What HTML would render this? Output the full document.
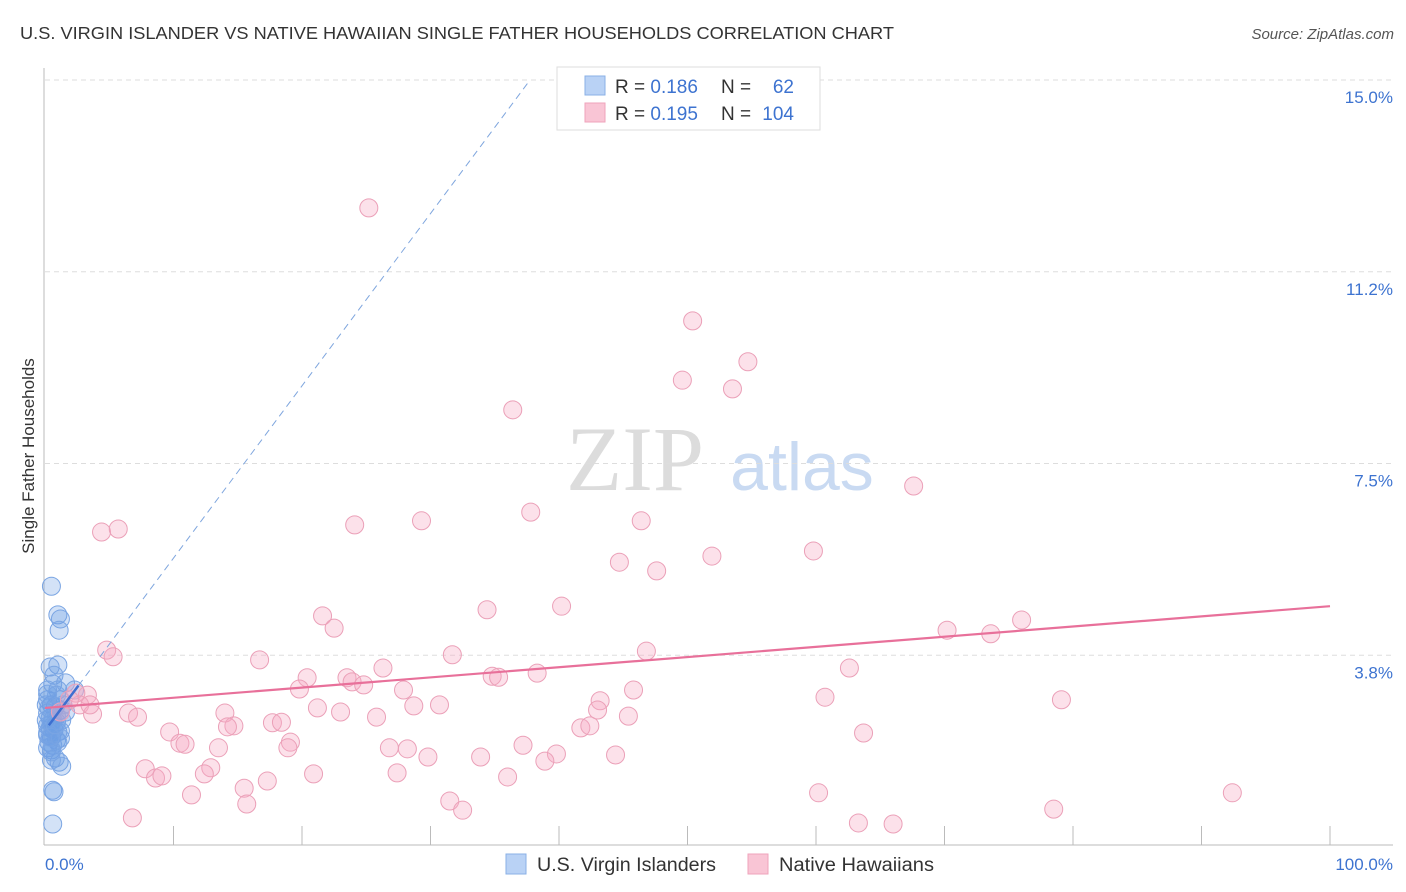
<!DOCTYPE html>
<html><head><meta charset="utf-8"><style>
body{margin:0;background:#fff;font-family:"Liberation Sans",sans-serif;}
svg{display:block}
</style></head><body>
<svg id="chart" width="1406" height="892" xmlns="http://www.w3.org/2000/svg">
<text x="20" y="39" font-size="17.5" fill="#333" textLength="874" lengthAdjust="spacingAndGlyphs">U.S. VIRGIN ISLANDER VS NATIVE HAWAIIAN SINGLE FATHER HOUSEHOLDS CORRELATION CHART</text>
<text x="1394" y="39" font-size="15" fill="#555" font-style="italic" text-anchor="end">Source: ZipAtlas.com</text>
<text transform="translate(34,456) rotate(-90)" font-size="17" fill="#333" text-anchor="middle">Single Father Households</text>
<g>
<text x="635" y="490" font-size="92" fill="#dcdcdc" font-family="Liberation Serif,serif" text-anchor="middle">ZIP</text>
<text x="802" y="490" font-size="68" fill="#c9daf2" text-anchor="middle">atlas</text>
</g>
<g id="grid"></g><g id="axes"></g><g id="lines"></g><g id="blue"></g><g id="pink"></g><g id="trend"></g>
<g>
<rect x="557" y="67" width="263" height="63" fill="#fff" stroke="#ddd"/>
<rect x="585" y="76" width="20" height="19" fill="#b9d2f5" stroke="#8ab0e6"/>
<rect x="585" y="103" width="20" height="19" fill="#f9c5d5" stroke="#efa3bb"/>
<text x="615" y="93" font-size="19" fill="#333">R = <tspan fill="#3d73d0">0.186</tspan><tspan x="721">N =</tspan></text>
<text x="794" y="93" font-size="19" fill="#3d73d0" text-anchor="end">62</text>
<text x="615" y="120" font-size="19" fill="#333">R = <tspan fill="#3d73d0">0.195</tspan><tspan x="721">N =</tspan></text>
<text x="794" y="120" font-size="19" fill="#3d73d0" text-anchor="end">104</text>
</g>
<g>
<rect x="506" y="854" width="20" height="20" fill="#b9d2f5" stroke="#8ab0e6"/>
<text x="537" y="871" font-size="19" fill="#333" textLength="179" lengthAdjust="spacingAndGlyphs">U.S. Virgin Islanders</text>
<rect x="748" y="854" width="20" height="20" fill="#f9c5d5" stroke="#efa3bb"/>
<text x="779" y="871" font-size="19" fill="#333" textLength="155" lengthAdjust="spacingAndGlyphs">Native Hawaiians</text>
</g>
</svg>
<script>
const yTicks=[15.0,11.25,7.5,3.75];
const yTickLabels=["15.0%","11.2%","7.5%","3.8%"];
const xTickLabels=["0.0%","100.0%"];
const pinkX=[25.2,50.4,54.7,49.6,53.5,36.4,67.6,4.4,5.7,24.1,29.3,37.8,46.4,59.8,51.9,44.7,47.6,40.2,34.4,21.6,22.5,76.0,70.2,73.6,4.8,5.3,16.7,31.7,46.8,62.6,26.3,20.4,23.5,23.9,24.8,34.8,35.3,38.3,19.8,27.9,45.8,60.7,43.2,79.1,3.3,2.4,2.7,3.7,6.5,7.2,14.0,21.2,23.0,25.8,28.7,30.7,43.0,45.4,14.7,14.2,17.7,18.4,9.7,10.5,10.9,19.1,13.5,18.9,26.8,28.2,37.2,39.8,41.7,42.4,44.4,63.7,29.8,33.9,38.9,7.8,8.6,9.1,12.9,12.4,20.9,27.4,36.0,15.5,17.3,11.4,15.7,31.5,32.5,6.8,60.2,63.3,66.0,78.5,92.4,1.9,1.2,3.5];
const pinkY=[12.50,10.29,9.49,9.13,8.96,8.55,7.06,6.16,6.22,6.30,6.38,6.55,6.38,5.79,5.69,5.57,5.40,4.71,4.64,4.52,4.28,4.44,4.24,4.17,3.85,3.72,3.66,3.76,3.83,3.50,3.50,3.31,3.31,3.23,3.17,3.34,3.32,3.40,3.09,3.07,3.07,2.93,2.86,2.88,2.97,3.01,2.78,2.60,2.62,2.54,2.62,2.72,2.64,2.54,2.76,2.78,2.68,2.56,2.37,2.35,2.43,2.44,2.25,2.03,2.01,2.05,1.94,1.94,1.94,1.92,1.99,1.82,2.33,2.37,1.80,2.23,1.76,1.76,1.68,1.53,1.35,1.39,1.55,1.43,1.43,1.45,1.37,1.15,1.29,1.02,0.84,0.90,0.72,0.57,1.06,0.47,0.45,0.74,1.06,2.88,2.64,2.78];
const blueX=[0.5,1.0,1.2,1.1,1.0,0.4,0.7,0.6,1.0,1.6,2.3,0.2,0.5,0.8,1.2,1.6,0.2,0.4,0.6,0.9,1.3,0.2,0.4,0.7,1.0,1.2,0.2,0.5,0.9,0.3,0.6,1.0,0.2,0.5,0.8,1.1,1.3,0.5,0.6,0.7,0.6,0.2,0.9,1.2,0.3,1.4,0.9,0.5,0.2,1.2,0.5,0.1,0.1,0.2,0.4,0.8];
const blueY=[5.10,4.54,4.46,4.24,3.56,3.52,3.36,3.19,3.07,3.21,3.07,2.88,2.78,2.74,2.68,2.64,2.62,2.52,2.48,2.44,2.48,2.37,2.33,2.29,2.25,2.27,2.19,2.15,2.09,2.05,1.99,2.05,1.94,1.90,1.74,1.66,1.58,1.70,1.11,1.08,0.45,3.07,2.97,2.88,2.72,2.78,2.56,2.41,2.23,2.13,1.86,2.48,2.78,2.99,2.15,2.39];
const pinkTrend=[2.72,4.71];
const blueTrend=[2.28,0.337];
const NS="http://www.w3.org/2000/svg";
const X0=45,X1=1330,Y0=847,PPU=51.13;
const sx=v=>X0+(X1-X0)*v/100, sy=v=>Y0-v*PPU;
function mk(t,a,p){const e=document.createElementNS(NS,t);for(const k in a)e.setAttribute(k,a[k]);p.appendChild(e);return e;}
const grid=document.getElementById('grid'),axes=document.getElementById('axes');
yTicks.forEach((t,i)=>{
 const l=mk('line',{x1:45,x2:1393,y1:sy(t),y2:sy(t),stroke:'#ddd','stroke-dasharray':'5,4'},grid);
 
 
 const tx=mk('text',{x:1393,y:sy(t)+23,'font-size':17,fill:'#3d73d0','text-anchor':'end'},axes);
 tx.textContent=yTickLabels[i];
 
 
});
let ax=mk('line',{x1:44,x2:44,y1:68,y2:845,stroke:'#bbb'},axes);


ax=mk('line',{x1:44,x2:1393,y1:845,y2:845,stroke:'#bbb'},axes);


for(let k=1;k<=10;k++){const x=sx(k*10);const t=mk('line',{x1:x,x2:x,y1:826,y2:845,stroke:'#bbb'},axes);
 
 }
[[0,'start',45],[100,'end',1393]].forEach((d,i)=>{const t=mk('text',{x:d[2],y:870,'font-size':17,fill:'#3d73d0','text-anchor':d[1]},axes);t.textContent=xTickLabels[i];
 
 });
const bg=document.getElementById('blue');
blueX.forEach((x,i)=>{const c=mk('circle',{cx:sx(x),cy:sy(blueY[i]),r:9,fill:'rgba(110,160,230,0.3)',stroke:'#7aa5e3','stroke-width':1},bg);
 
 });
const pg=document.getElementById('pink');
pinkX.forEach((x,i)=>{const c=mk('circle',{cx:sx(x),cy:sy(pinkY[i]),r:9,fill:'rgba(245,170,195,0.35)',stroke:'#eba0b8','stroke-width':1},pg);
 
 });
const tg=document.getElementById('trend');
const xEnd=(15-blueTrend[0])/blueTrend[1];
let l=mk('line',{x1:sx(2.6),y1:sy(blueTrend[0]+blueTrend[1]*2.6),x2:sx(xEnd),y2:sy(15),stroke:'#7fa6de','stroke-width':1,'stroke-dasharray':'7,5'},tg);


l=mk('line',{x1:sx(0.3),y1:sy(blueTrend[0]+blueTrend[1]*0.3),x2:sx(2.6),y2:sy(blueTrend[0]+blueTrend[1]*2.6),stroke:'#3d6fd0','stroke-width':2.5},tg);


l=mk('line',{x1:sx(0),y1:sy(pinkTrend[0]),x2:sx(100),y2:sy(pinkTrend[1]),stroke:'#e8709a','stroke-width':2.2},tg);


</script>
</body></html>
